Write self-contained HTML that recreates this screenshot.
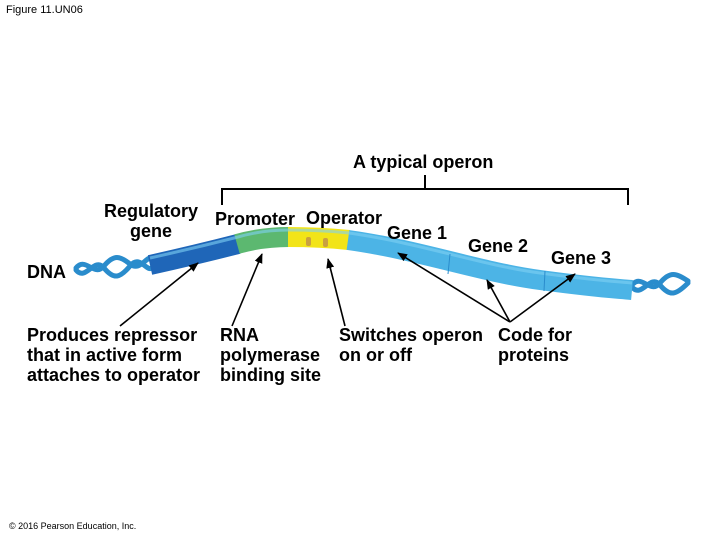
<!DOCTYPE html>
<html><head><style>
body{margin:0;background:#fff;width:720px;height:540px;overflow:hidden;font-family:"Liberation Sans",sans-serif}
.t{position:absolute;font-weight:bold;font-size:18px;color:#000;line-height:20px;white-space:nowrap}
</style></head><body>
<div style="position:absolute;left:6px;top:4px;font-size:11px">Figure 11.UN06</div>
<div style="position:absolute;left:9px;top:521px;font-size:9px">© 2016 Pearson Education, Inc.</div>
<svg width="720" height="540" style="position:absolute;left:0;top:0">
<defs><marker id="a" markerWidth="10" markerHeight="8" refX="9" refY="4" orient="auto" markerUnits="userSpaceOnUse"><path d="M0,0L10,4L0,8z" fill="#000"/></marker></defs>
<g fill="none" stroke="#000" stroke-width="2">
<path d="M222,205V189H628V205M425,189V175"/>
</g>
<g fill="none" stroke="#2a8ccc" stroke-width="5" stroke-linecap="round">
<path d="M76,268 C86,256 94,278 104,266 S120,256 130,264 S146,256 152,258"/>
<path d="M76,270 C86,282 94,256 104,268 S120,278 130,266 S146,272 152,268"/>
<path d="M632,285 C642,273 650,295 660,283 S676,273 688,281"/>
<path d="M632,287 C642,299 650,273 660,285 S676,295 688,283"/>
</g>
<g fill="none" stroke-width="20">
<path d="M150,265 Q195,255 238,244" stroke="#1f66b8"/>
<path d="M237,244 Q262,237 289,237" stroke="#5cb870"/>
<path d="M288,237 Q320,237 349,240" stroke="#f2e418"/>
<path d="M348,240 C420,250 480,272 540,280 S610,288 632,290" stroke="#4cb4e6"/>
</g>
<path d="M150,258 Q195,248 238,237 Q262,230 289,230 Q320,230 349,233 C420,243 480,265 540,273 S610,281 632,283" fill="none" stroke="#7fd0f4" stroke-width="3" opacity=".6"/>
<g stroke="#2a8ccc" stroke-width="1"><line x1="450" y1="254" x2="448" y2="274"/><line x1="545" y1="271" x2="544" y2="291"/></g>
<g fill="#c9a040"><rect x="306" y="237" width="5" height="9" rx="2"/><rect x="323" y="238" width="5" height="9" rx="2"/></g>
<g stroke="#000" stroke-width="1.6" marker-end="url(#a)">
<line x1="120" y1="326" x2="198" y2="263"/>
<line x1="232" y1="326" x2="262" y2="254"/>
<line x1="345" y1="326" x2="328" y2="259"/>
<line x1="510" y1="322" x2="398" y2="253"/>
<line x1="510" y1="322" x2="487" y2="280"/>
<line x1="510" y1="322" x2="575" y2="274"/>
</g>
</svg>
<div class="t" style="left:353px;top:152px">A typical operon</div>
<div class="t" style="left:104px;top:201px">Regulatory</div>
<div class="t" style="left:130px;top:221px">gene</div>
<div class="t" style="left:215px;top:209px">Promoter</div>
<div class="t" style="left:306px;top:208px">Operator</div>
<div class="t" style="left:387px;top:223px">Gene 1</div>
<div class="t" style="left:468px;top:236px">Gene 2</div>
<div class="t" style="left:551px;top:248px">Gene 3</div>
<div class="t" style="left:27px;top:262px">DNA</div>
<div class="t" style="left:27px;top:325px">Produces repressor<br>that in active form<br>attaches to operator</div>
<div class="t" style="left:220px;top:325px">RNA<br>polymerase<br>binding site</div>
<div class="t" style="left:339px;top:325px">Switches operon<br>on or off</div>
<div class="t" style="left:498px;top:325px">Code for<br>proteins</div>
</body></html>
